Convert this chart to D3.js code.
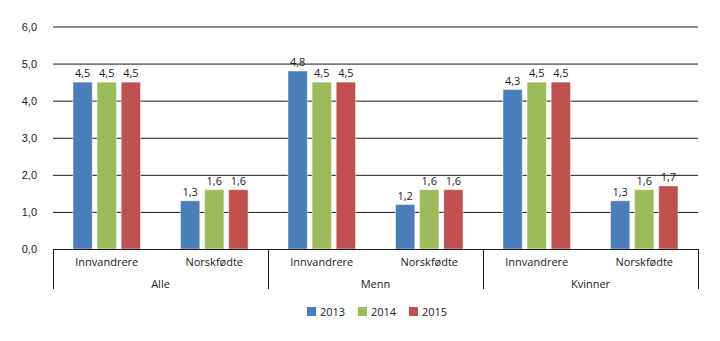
<!DOCTYPE html>
<html>
<head>
<meta charset="utf-8">
<script src="https://cdn.jsdelivr.net/npm/d3@7"></script>
<style>
  html, body { margin: 0; padding: 0; background: #fff; }
  svg { display: block; font-family: "Open Sans", "Noto Sans", sans-serif; }
</style>
</head>
<body>
<svg id="chart" width="720" height="341"></svg>
<script>
// Groups and subgroups along the x axis
const groups = ["Alle", "Menn", "Kvinner"];
const subgroups = ["Innvandrere", "Norskfødte"];
const years = ["2013", "2014", "2015"];

// Values per year, ordered Alle/Innv, Alle/Nors, Menn/Innv, Menn/Nors, Kvinner/Innv, Kvinner/Nors
const values2013 = [4.5, 1.3, 4.8, 1.2, 4.3, 1.3];
const values2014 = [4.5, 1.6, 4.5, 1.6, 4.5, 1.6];
const values2015 = [4.5, 1.6, 4.5, 1.6, 4.5, 1.7];

const yTicks = [0, 1, 2, 3, 4, 5, 6];
const colors = ["#4a7ebb", "#9bbb59", "#c0504d"];

const series = [values2013, values2014, values2015];
const cells = [];
groups.forEach((g, gi) => subgroups.forEach((s, si) => {
  const idx = gi * subgroups.length + si;
  cells.push({ key: g + "|" + s, group: g, sub: s,
    vals: years.map((yr, yi) => ({ year: yr, value: series[yi][idx] })) });
}));

const svg = d3.select("#chart");
const plotLeft = 53, plotRight = 698, plotTop = 26.5, plotBottom = 249;

const y = d3.scaleLinear().domain([0, 6]).range([plotBottom, plotTop]);
const xCell = d3.scaleBand().domain(cells.map(c => c.key)).range([plotLeft, plotRight]).paddingInner(0).paddingOuter(0);
const xYear = d3.scaleBand().domain(years).range([20, xCell.bandwidth() - 20]).paddingInner(0.2).paddingOuter(0);
const xGroup = d3.scaleBand().domain(groups).range([plotLeft, plotRight]);

// Gridlines and y tick labels
const yAxis = d3.axisLeft(y).tickValues(yTicks)
  .tickFormat(d => d3.format(".1f")(d).replace(".", ","))
  .tickSize(-(plotRight - plotLeft)).tickPadding(16);
const ya = svg.append("g").attr("transform", `translate(${plotLeft},0)`).call(yAxis);
ya.select(".domain").remove();
ya.selectAll(".tick line").attr("stroke", "#1a1a1a").attr("stroke-width", 1);
ya.selectAll(".tick text").attr("fill", "#1a1a1a").style("font-size", "11px");

// Bars
const cellG = svg.append("g").selectAll("g").data(cells).join("g")
  .attr("transform", d => `translate(${xCell(d.key)},0)`);
cellG.selectAll("rect").data(d => d.vals).join("rect")
  .attr("x", d => xYear(d.year))
  .attr("width", xYear.bandwidth())
  .attr("y", d => y(d.value))
  .attr("height", d => y(0) - y(d.value))
  .attr("fill", (d, i) => colors[i])
  .attr("stroke", "#ffffff").attr("stroke-opacity", 0.45).attr("stroke-width", 1);

// Value labels
cellG.selectAll("text").data(d => d.vals).join("text")
  .attr("x", d => xYear(d.year) + xYear.bandwidth() / 2)
  .attr("y", d => y(d.value) - 5)
  .attr("text-anchor", "middle")
  .attr("fill", "#1a1a1a")
  .style("font-size", "11px")
  .text(d => d3.format(".1f")(d.value).replace(".", ","));

// Category axis: baseline, group separators, labels
const axG = svg.append("g");
axG.append("line").attr("x1", plotLeft).attr("x2", plotRight).attr("y1", plotBottom + 0.5).attr("y2", plotBottom + 0.5)
  .attr("stroke", "#1a1a1a");
const seps = [plotLeft].concat(groups.map(g => xGroup(g) + xGroup.bandwidth()));
axG.selectAll("line.sep").data(seps).join("line").attr("class", "sep")
  .attr("x1", d => Math.round(d) + 0.5).attr("x2", d => Math.round(d) + 0.5)
  .attr("y1", plotBottom).attr("y2", 289)
  .attr("stroke", "#1a1a1a");
axG.selectAll("text.sub").data(cells).join("text").attr("class", "sub")
  .attr("x", d => xCell(d.key) + xCell.bandwidth() / 2)
  .attr("y", 266)
  .attr("text-anchor", "middle").attr("fill", "#1a1a1a").style("font-size", "11px")
  .text(d => d.sub);
axG.selectAll("text.grp").data(groups).join("text").attr("class", "grp")
  .attr("x", d => xGroup(d) + xGroup.bandwidth() / 2)
  .attr("y", 288)
  .attr("text-anchor", "middle").attr("fill", "#1a1a1a").style("font-size", "11px")
  .text(d => d);

// Legend
const legendX = [307, 358, 409];
const lg = svg.append("g").selectAll("g").data(years).join("g")
  .attr("transform", (d, i) => `translate(${legendX[i]},307)`);
lg.append("rect").attr("width", 9).attr("height", 9).attr("fill", (d, i) => colors[i]);
lg.append("text").attr("x", 13).attr("y", 9).attr("fill", "#1a1a1a").style("font-size", "11px").text(d => d);
</script>
</body>
</html>
